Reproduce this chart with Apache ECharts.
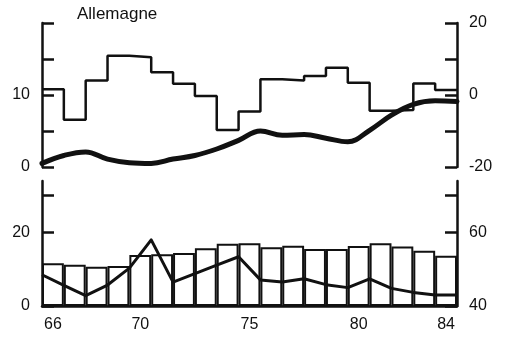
<!DOCTYPE html>
<html>
<head>
<meta charset="utf-8">
<title>Allemagne</title>
<script src="https://cdn.jsdelivr.net/npm/echarts@6/dist/echarts.min.js"></script>
<style>
  html, body { margin: 0; padding: 0; background: #fff; }
  #chart { width: 505px; height: 339px; }
</style>
</head>
<body>
<div id="chart"></div>
<script>
// Years shown as one band each on the lower panel
const years = ['66','67','68','69','70','71','72','73','74','75','76','77','78','79','80','81','82','83','84'];
const yearLabels = ['66', '70', '75', '80', '84'];

// Band edges (start and end of each year)
const bandEdges = [65.5, 66.5, 67.5, 68.5, 69.5, 70.5, 71.5, 72.5, 73.5, 74.5,
                   75.5, 76.5, 77.5, 78.5, 79.5, 80.5, 81.5, 82.5, 83.5, 84.5];

// Upper panel: yearly step series (right scale, -20..20)
const stepValues = [1.6, -6.9, 4.0, 10.9, 10.5, 6.3, 3.1, -0.3, -9.7, -4.6,
                    4.4, 4.0, 5.3, 7.6, 3.4, -4.4, -4.2, 3.2, 1.4];

// Upper panel: smooth curve (left scale, 0..20)
const curveValues = [0.5, 1.6, 2.1, 1.1, 0.6, 0.5, 1.1, 1.6, 2.5, 3.7,
                     5.0, 4.4, 4.5, 4.0, 3.5, 5.1, 7.2, 8.7, 9.2, 9.1];

// Lower panel: yearly bars and broken line (left scale, 0..34)
const barValues = [11.6, 11.2, 10.7, 10.9, 13.9, 14.1, 14.4, 15.7, 16.9, 17.1,
                   16.0, 16.4, 15.5, 15.5, 16.3, 17.1, 16.2, 15.0, 13.7];
const lineValues = [8.5, 5.6, 2.8, 5.7, 10.3, 18.0, 6.5, 8.8, 11.1, 13.4,
                    7.1, 6.5, 7.4, 5.8, 5.0, 7.4, 4.8, 3.7, 3.0, 3.0];

// Axis tick / label positions
const topLeftLabels = [0, 10];
const topRightLabels = [-20, 0, 20];
const lowLeftTicks = [0, 10, 20, 30];
const lowLeftLabels = [0, 20];
const lowRightTicks = [40, 50, 60, 70];
const lowRightLabels = [40, 60];

const INK = '#111';
const FONT = 'Liberation Sans, Arial, sans-serif';

const stepData = stepValues.map((v, i) => [bandEdges[i], v]);
stepData.push([bandEdges[bandEdges.length - 1], stepValues[stepValues.length - 1]]);
const curveData = curveValues.map((v, i) => [bandEdges[i], v]);
const lineData = lineValues.map((v, i) => [bandEdges[i], v]);

function yAxisBase(gridIndex, position) {
  return {
    type: 'value',
    gridIndex: gridIndex,
    position: position,
    splitLine: { show: false },
    axisLine: { show: true, onZero: false, lineStyle: { color: INK, width: 2.5 } },
    axisTick: { show: true, inside: true, length: 12, lineStyle: { color: INK, width: 2.5 } },
    axisLabel: { color: INK, fontSize: 16, fontFamily: FONT, margin: 12 }
  };
}

const chart = echarts.init(document.getElementById('chart'), null, { renderer: 'canvas' });

chart.setOption({
  animation: false,
  backgroundColor: '#fff',
  title: {
    text: 'Allemagne',
    left: 77,
    top: 6,
    padding: 0,
    textStyle: { color: INK, fontSize: 17, fontWeight: 'normal', fontFamily: FONT }
  },
  grid: [
    { left: 42, right: 48, top: 23, height: 144 },
    { left: 42, right: 48, top: 181, height: 125 }
  ],
  xAxis: [
    { type: 'value', gridIndex: 0, min: 65.5, max: 84.5, show: false },
    {
      type: 'category',
      gridIndex: 1,
      data: years,
      boundaryGap: true,
      axisLine: { show: true, onZero: false, lineStyle: { color: INK, width: 2.5 } },
      axisTick: { show: false },
      axisLabel: {
        color: INK, fontSize: 16, fontFamily: FONT, margin: 11,
        interval: (idx, val) => yearLabels.indexOf(val) !== -1
      },
      splitLine: { show: false }
    },
    { type: 'value', gridIndex: 1, min: 65.5, max: 84.5, show: false }
  ],
  yAxis: [
    Object.assign(yAxisBase(0, 'left'), {
      min: 0, max: 20, interval: 5,
      axisLabel: Object.assign(yAxisBase(0, 'left').axisLabel, { customValues: topLeftLabels })
    }),
    Object.assign(yAxisBase(0, 'right'), {
      min: -20, max: 20, interval: 10,
      axisLabel: Object.assign(yAxisBase(0, 'right').axisLabel, { customValues: topRightLabels })
    }),
    Object.assign(yAxisBase(1, 'left'), {
      min: 0, max: 34, interval: 10,
      axisTick: Object.assign(yAxisBase(1, 'left').axisTick, { customValues: lowLeftTicks }),
      axisLabel: Object.assign(yAxisBase(1, 'left').axisLabel, { customValues: lowLeftLabels })
    }),
    Object.assign(yAxisBase(1, 'right'), {
      min: 40, max: 74, interval: 10,
      axisTick: Object.assign(yAxisBase(1, 'right').axisTick, { customValues: lowRightTicks }),
      axisLabel: Object.assign(yAxisBase(1, 'right').axisLabel, { customValues: lowRightLabels })
    })
  ],
  series: [
    {
      type: 'line',
      xAxisIndex: 0,
      yAxisIndex: 1,
      data: stepData,
      step: 'end',
      symbol: 'none',
      lineStyle: { color: INK, width: 2.5 },
      z: 2
    },
    {
      type: 'line',
      xAxisIndex: 0,
      yAxisIndex: 0,
      data: curveData,
      smooth: 0.4,
      symbol: 'none',
      lineStyle: { color: INK, width: 5, cap: 'round', join: 'round' },
      z: 3
    },
    {
      type: 'bar',
      xAxisIndex: 1,
      yAxisIndex: 2,
      data: barValues,
      barCategoryGap: '0%',
      itemStyle: { color: '#fff', borderColor: INK, borderWidth: 2 },
      z: 2
    },
    {
      type: 'line',
      xAxisIndex: 2,
      yAxisIndex: 2,
      data: lineData,
      symbol: 'none',
      lineStyle: { color: INK, width: 3, join: 'round' },
      z: 3
    }
  ]
});
</script>
</body>
</html>
